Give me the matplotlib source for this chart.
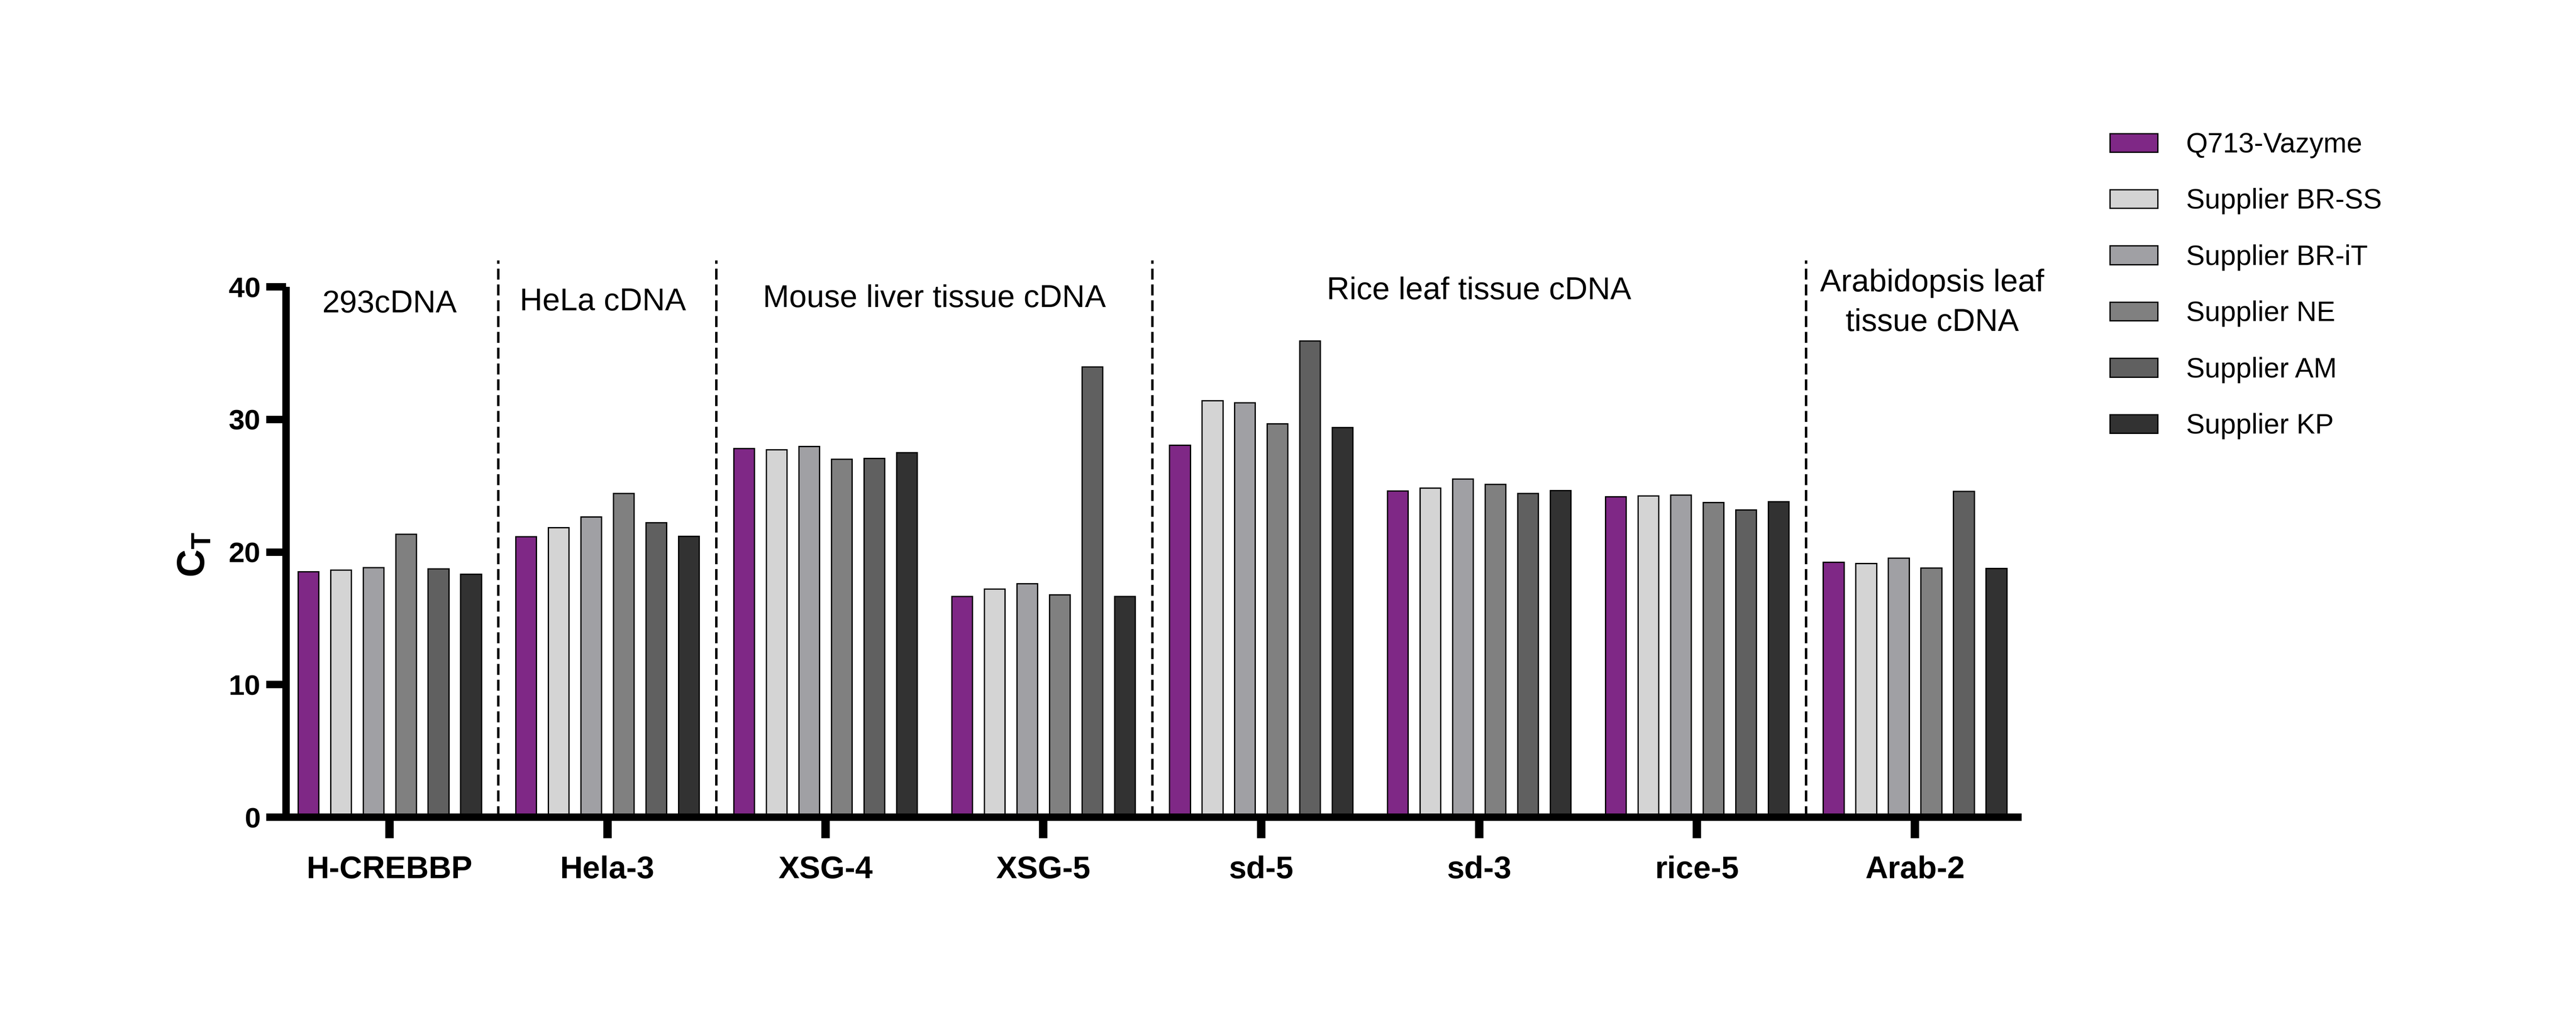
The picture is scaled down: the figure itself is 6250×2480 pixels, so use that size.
import matplotlib
matplotlib.use("Agg")
import matplotlib.pyplot as plt
import numpy as np
from matplotlib.patches import Patch

plt.rcParams['font.family'] = ['Liberation Sans', 'DejaVu Sans']
plt.rcParams['mathtext.fontset'] = 'custom'
plt.rcParams['mathtext.rm'] = 'Liberation Sans'
plt.rcParams['mathtext.bf'] = 'Liberation Sans:bold'

# данні
targets = ["H-CREBBP", "Hela-3", "XSG-4", "XSG-5", "sd-5", "sd-3", "rice-5", "Arab-2"]
series = ["Q713-Vazyme", "Supplier BR-SS", "Supplier BR-iT",
          "Supplier NE", "Supplier AM", "Supplier KP"]
q713 = [18.53, 21.17, 27.82, 16.65, 28.07, 24.63, 24.18, 19.24]
br_ss = [18.65, 21.86, 27.72, 17.21, 31.43, 24.82, 24.23, 19.16]
br_it = [18.82, 22.66, 27.96, 17.62, 31.26, 25.52, 24.30, 19.54]
ne = [21.35, 24.44, 27.02, 16.79, 29.68, 25.10, 23.73, 18.81]
am = [18.74, 22.22, 27.06, 33.97, 35.92, 24.43, 23.19, 24.59]
kp = [18.35, 21.20, 27.50, 16.67, 29.40, 24.65, 23.80, 18.76]
colors = ["#7F2886", "#D4D4D4", "#A0A0A4", "#808080", "#606060", "#323232"]

# групи зразків (текст, x, y базової лінії)
group_labels = ["293cDNA", "HeLa cDNA", "Mouse liver tissue cDNA",
                "Rice leaf tissue cDNA"]
group_x = [0.0, 0.98, 2.5, 5.0]
group_y = [38.07, 38.22, 38.47, 39.06]
separators = [0.5, 1.5, 3.5, 6.5]

fig = plt.figure(figsize=(25, 9.92), dpi=250)
ax = fig.add_axes([0.11104, 0.2004, 0.7848 - 0.11104, 0.71935 - 0.2004])

x = np.arange(len(targets))
step = 0.1494
width = 0.095
values = [q713, br_ss, br_it, ne, am, kp]
for i, (vals, col) in enumerate(zip(values, colors)):
    ax.bar(x + (i - 2.5) * step, vals, width, color=col,
           edgecolor="black", linewidth=0.9, zorder=2)

# пунктирні роздільники
for s in separators:
    ax.plot([s, s], [0, 42.0], color="black", lw=1.7,
            linestyle=(0, (4.5, 2)), clip_on=False, zorder=1)

for lab, gx, gy in zip(group_labels, group_x, group_y):
    ax.text(gx, gy, lab, ha="center", va="baseline", fontsize=22)
ax.text(7.08, 39.65, "Arabidopsis leaf", ha="center", va="baseline", fontsize=22)
ax.text(7.08, 36.67, "tissue cDNA", ha="center", va="baseline", fontsize=22)

ax.set_xlim(-0.475, 7.49)
ax.set_ylim(0, 40)
ax.set_yticks([0, 10, 20, 30, 40])
ax.set_xticks(x)
ax.set_xticklabels(targets, fontsize=22, fontweight="bold")
for t in ax.get_yticklabels():
    t.set_fontsize(20)
    t.set_fontweight("bold")

for side in ["top", "right"]:
    ax.spines[side].set_visible(False)
for side in ["left", "bottom"]:
    ax.spines[side].set_linewidth(5.2)
    ax.spines[side].set_capstyle("butt")
ax.tick_params(axis="y", length=13.8, width=5.2, pad=4)
ax.tick_params(axis="x", length=14.7, width=5.9, pad=12)

fig.text(471.5 / 6250, 1 - 1346 / 2480, r"$\mathbf{C}_{\mathbf{T}}$",
         rotation=90, ha="center", va="center", fontsize=27)

handles = [Patch(facecolor=c, edgecolor="black", linewidth=0.9) for c in colors]
fig.legend(handles, series, loc="upper left", bbox_to_anchor=(0.819, 0.871),
           frameon=False, fontsize=19.5, handlelength=1.71, handleheight=0.65,
           handletextpad=1.02, labelspacing=1.07, borderpad=0, borderaxespad=0)

fig.savefig("out.png", dpi=250)
